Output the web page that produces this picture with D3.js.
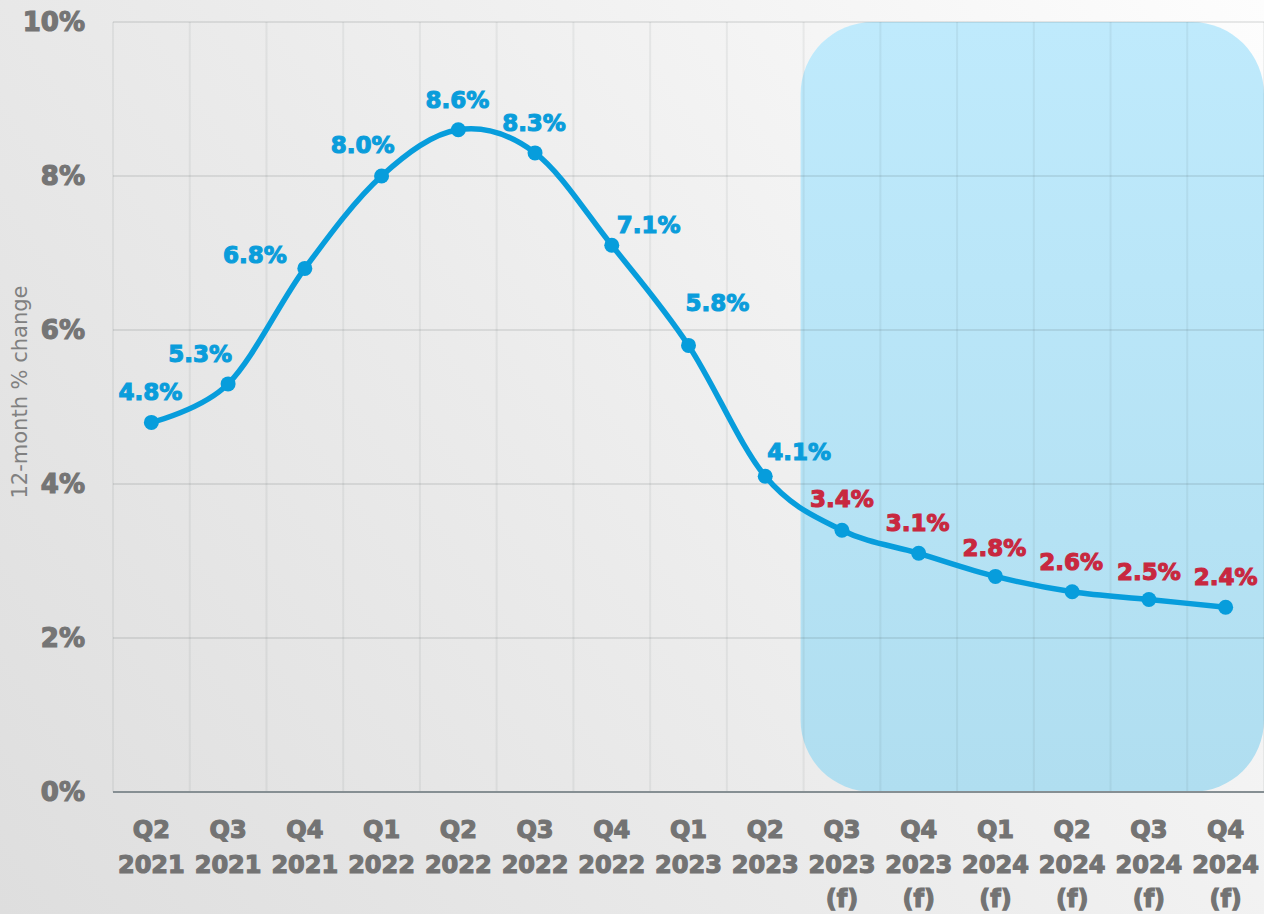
<!DOCTYPE html>
<html>
<head>
<meta charset="utf-8">
<script src="https://cdn.jsdelivr.net/npm/d3@7"></script>
<style>
  html, body { margin: 0; padding: 0; background: #e6e6e6; }
  svg { display: block; }
</style>
</head>
<body>
<svg id="chart" width="1264" height="914"></svg>
<script>
// Quarterly 12-month % change, with forecasts from Q3 2023
const quarters = ["Q2", "Q3", "Q4", "Q1", "Q2", "Q3", "Q4", "Q1", "Q2", "Q3", "Q4", "Q1", "Q2", "Q3", "Q4"];
const years = ["2021", "2021", "2021", "2022", "2022", "2022", "2022", "2023", "2023", "2023", "2023", "2024", "2024", "2024", "2024"];
const forecastFlags = [false, false, false, false, false, false, false, false, false, true, true, true, true, true, true];
const values = [4.8, 5.3, 6.8, 8.0, 8.6, 8.3, 7.1, 5.8, 4.1, 3.4, 3.1, 2.8, 2.6, 2.5, 2.4];
const yTicks = [0, 2, 4, 6, 8, 10];
const yTitle = "12-month % change";

const W = 1264, H = 914;
const margin = { left: 113, right: 0, top: 22, bottom: 122 };
const plotW = W - margin.left - margin.right;
const plotH = H - margin.top - margin.bottom;
const FONT = "'DejaVu Sans', Verdana, sans-serif";

const svg = d3.select("#chart");
const defs = svg.append("defs");

// page background: soft gray fading to white toward the top-right
const bg = defs.append("linearGradient").attr("id", "bg")
  .attr("gradientUnits", "userSpaceOnUse")
  .attr("x1", 0).attr("y1", H).attr("x2", W).attr("y2", 0);
bg.append("stop").attr("offset", "0").attr("stop-color", "#dedede");
bg.append("stop").attr("offset", "0.45").attr("stop-color", "#ebebeb");
bg.append("stop").attr("offset", "1").attr("stop-color", "#fdfdfd");
svg.append("rect").attr("width", W).attr("height", H).attr("fill", "url(#bg)");

// forecast panel gradient
const fg = defs.append("linearGradient").attr("id", "fc")
  .attr("x1", 0).attr("y1", 0).attr("x2", 0).attr("y2", 1);
fg.append("stop").attr("offset", "0").attr("stop-color", "#bfeafc");
fg.append("stop").attr("offset", "1").attr("stop-color", "#b0def0");

const ids = d3.range(values.length);
const x = d3.scaleBand().domain(ids).range([margin.left, margin.left + plotW]);
const y = d3.scaleLinear().domain([0, 10]).range([margin.top + plotH, margin.top]);
const cx = i => x(i) + x.bandwidth() / 2;

// forecast panel behind the grid
const firstF = forecastFlags.indexOf(true);
svg.append("rect")
  .attr("x", x(firstF) - 3)
  .attr("y", y(10))
  .attr("width", margin.left + plotW - x(firstF) + 3)
  .attr("height", y(0) - y(10))
  .attr("rx", 72).attr("ry", 72)
  .attr("fill", "url(#fc)");

// vertical gridlines at category boundaries
const g = svg.append("g");
g.selectAll("line.v").data(d3.range(values.length + 1)).join("line")
  .attr("class", "v")
  .attr("x1", i => margin.left + i * x.step())
  .attr("x2", i => margin.left + i * x.step())
  .attr("y1", y(10)).attr("y2", y(0))
  .attr("stroke", "rgba(60,70,70,0.07)").attr("stroke-width", 2);

// horizontal gridlines
g.selectAll("line.h").data(yTicks.filter(t => t > 0)).join("line")
  .attr("class", "h")
  .attr("x1", margin.left).attr("x2", margin.left + plotW)
  .attr("y1", d => y(d)).attr("y2", d => y(d))
  .attr("stroke", "rgba(40,50,50,0.10)").attr("stroke-width", 2);

// baseline axis
svg.append("line")
  .attr("x1", margin.left).attr("x2", margin.left + plotW)
  .attr("y1", y(0)).attr("y2", y(0))
  .attr("stroke", "#868f93").attr("stroke-width", 2);

// y tick labels
const yAxis = d3.axisLeft(y).tickValues(yTicks).tickFormat(d => d + "%").tickSize(0).tickPadding(0);
const ya = svg.append("g").attr("transform", "translate(85,0)").call(yAxis);
ya.select(".domain").remove();
ya.selectAll("text")
  .attr("font-family", FONT)
  .attr("font-weight", "bold").attr("font-size", 26)
  .attr("fill", "#757575")
  .attr("stroke", "#757575").attr("stroke-width", 1.2);

// y axis title
svg.append("text")
  .attr("transform", `translate(27,392) rotate(-90)`)
  .attr("text-anchor", "middle")
  .attr("font-family", FONT)
  .attr("font-size", 21)
  .attr("fill", "#808080")
  .text(yTitle);

// category labels (quarter / year / forecast marker)
const xl = svg.append("g")
  .attr("font-family", FONT)
  .attr("font-weight", "bold").attr("font-size", 24)
  .attr("fill", "#737373").attr("stroke", "#737373").attr("stroke-width", 1.2)
  .attr("text-anchor", "middle");
ids.forEach(i => {
  const t = xl.append("text").attr("x", cx(i)).attr("y", 838);
  t.append("tspan").attr("x", cx(i)).attr("dy", 0).text(quarters[i]);
  t.append("tspan").attr("x", cx(i)).attr("dy", 34.5).text(years[i]);
  if (forecastFlags[i]) t.append("tspan").attr("x", cx(i)).attr("dy", 34.5).text("(f)");
});

// smoothed line
const line = d3.line().x(i => cx(i)).y(i => y(values[i])).curve(d3.curveCardinal.tension(0));
svg.append("path").datum(ids)
  .attr("d", line)
  .attr("fill", "none")
  .attr("stroke", "#079ddc").attr("stroke-width", 5.5)
  .attr("stroke-linejoin", "round");

// markers
svg.selectAll("circle.pt").data(ids).join("circle")
  .attr("class", "pt")
  .attr("cx", i => cx(i)).attr("cy", i => y(values[i]))
  .attr("r", 7.5).attr("fill", "#079ddc");

// data labels; offsets relative to each point (dx to label centre, dy to baseline)
const labelOffsets = [
  [-1, -22], [-28, -22], [-50, -5], [-19, -23], [-1, -22], [-1, -22],
  [37, -12], [29, -34], [34, -16], [0, -23], [-1, -22], [-1, -20],
  [-1, -22], [0, -20], [0, -22]
];
svg.append("g")
  .attr("font-family", FONT)
  .attr("font-weight", "bold").attr("font-size", 23)
  .attr("text-anchor", "middle")
  .selectAll("text").data(ids).join("text")
  .attr("x", i => cx(i) + labelOffsets[i][0])
  .attr("y", i => y(values[i]) + labelOffsets[i][1])
  .attr("fill", i => forecastFlags[i] ? "#c8283f" : "#0a9ddb")
  .attr("stroke", i => forecastFlags[i] ? "#c8283f" : "#0a9ddb")
  .attr("stroke-width", 1.1)
  .text(i => values[i].toFixed(1) + "%");
</script>
</body>
</html>
